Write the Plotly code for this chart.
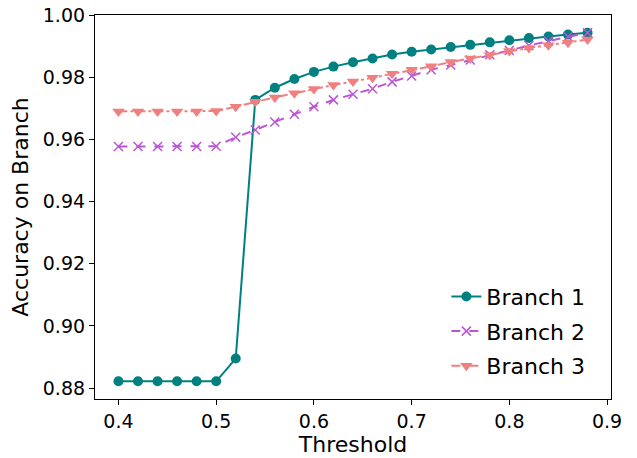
import plotly.graph_objects as go

thresholds = [0.40, 0.42, 0.44, 0.46, 0.48, 0.50, 0.52, 0.54, 0.56, 0.58, 0.60, 0.62, 0.64,
              0.66, 0.68, 0.70, 0.72, 0.74, 0.76, 0.78, 0.80, 0.82, 0.84, 0.86, 0.88]
branch1 = [0.8822, 0.8822, 0.8822, 0.8822, 0.8822, 0.8822, 0.8895, 0.9727, 0.9766, 0.9794,
           0.9817, 0.9834, 0.9848, 0.9860, 0.9873, 0.9882, 0.9889, 0.9897, 0.9904, 0.9912,
           0.9919, 0.9926, 0.9931, 0.9937, 0.9943]
branch2 = [0.9577, 0.9577, 0.9577, 0.9577, 0.9577, 0.9578, 0.9607, 0.9630, 0.9656, 0.9681,
           0.9705, 0.9727, 0.9745, 0.9763, 0.9785, 0.9804, 0.9824, 0.9839, 0.9855, 0.9872,
           0.9886, 0.9902, 0.9916, 0.9930, 0.9943]
branch3 = [0.9690, 0.9690, 0.9690, 0.9690, 0.9690, 0.9691, 0.9705, 0.9721, 0.9735, 0.9748,
           0.9762, 0.9775, 0.9786, 0.9798, 0.9811, 0.9824, 0.9835, 0.9849, 0.9860, 0.9871,
           0.9884, 0.9894, 0.9903, 0.9911, 0.9921]
names = ["Branch 1", "Branch 2", "Branch 3"]
x_ticks = [0.4, 0.5, 0.6, 0.7, 0.8, 0.9]
y_ticks = [0.88, 0.90, 0.92, 0.94, 0.96, 0.98, 1.00]

font = "DejaVu Sans"
fig = go.Figure()
fig.add_trace(go.Scatter(x=thresholds, y=branch1, name=names[0], mode="lines+markers",
                         legendgroup="g1",
                         line=dict(color="#008080", width=2, dash="solid"),
                         marker=dict(symbol="circle", size=10, color="#008080")))
fig.add_trace(go.Scatter(x=thresholds, y=branch2, name=names[1], mode="lines+markers",
                         legendgroup="g2",
                         line=dict(color="#BA55D3", width=2, dash="dash"),
                         marker=dict(symbol="x-thin", size=9, color="#BA55D3",
                                     line=dict(color="#BA55D3", width=1.5))))
fig.add_trace(go.Scatter(x=thresholds, y=branch3, name=names[2], mode="lines+markers",
                         legendgroup="g3",
                         line=dict(color="#F08080", width=2, dash="dashdot"),
                         marker=dict(symbol="triangle-down", size=11, color="#F08080")))

axis_common = dict(showline=True, linecolor="black", linewidth=1.2, mirror=True,
                   ticks="outside", ticklen=5, tickwidth=1.2, tickcolor="black",
                   showgrid=False, zeroline=False, automargin=False,
                   tickfont=dict(family=font, size=19, color="black"))
fig.update_xaxes(range=[0.376, 0.904], tickvals=x_ticks, ticktext=["0.4", "0.5", "0.6", "0.7", "0.8", "0.9"],
                 title=dict(text="Threshold", font=dict(family=font, size=22, color="black"), standoff=2),
                 **axis_common)
fig.update_yaxes(range=[0.8765, 1.0], tickvals=y_ticks, ticktext=[f"{v:.2f}" for v in y_ticks],
                 title=dict(text="Accuracy on Branch", font=dict(family=font, size=22, color="black"), standoff=8),
                 **axis_common)
fig.update_layout(width=637, height=458, margin=dict(l=95, r=26, t=15, b=59),
                  plot_bgcolor="white", paper_bgcolor="white",
                  font=dict(family=font, color="black"),
                  legend=dict(x=0.96, y=0.032, xanchor="right", yanchor="bottom",
                              bgcolor="rgba(255,255,255,0.8)", borderwidth=0,
                              font=dict(family=font, size=22, color="black"),
                              tracegroupgap=3))
fig.write_html("out.html", config={"displayModeBar": False},
               post_script="document.body.style.margin='0';document.body.style.overflow='hidden';")
